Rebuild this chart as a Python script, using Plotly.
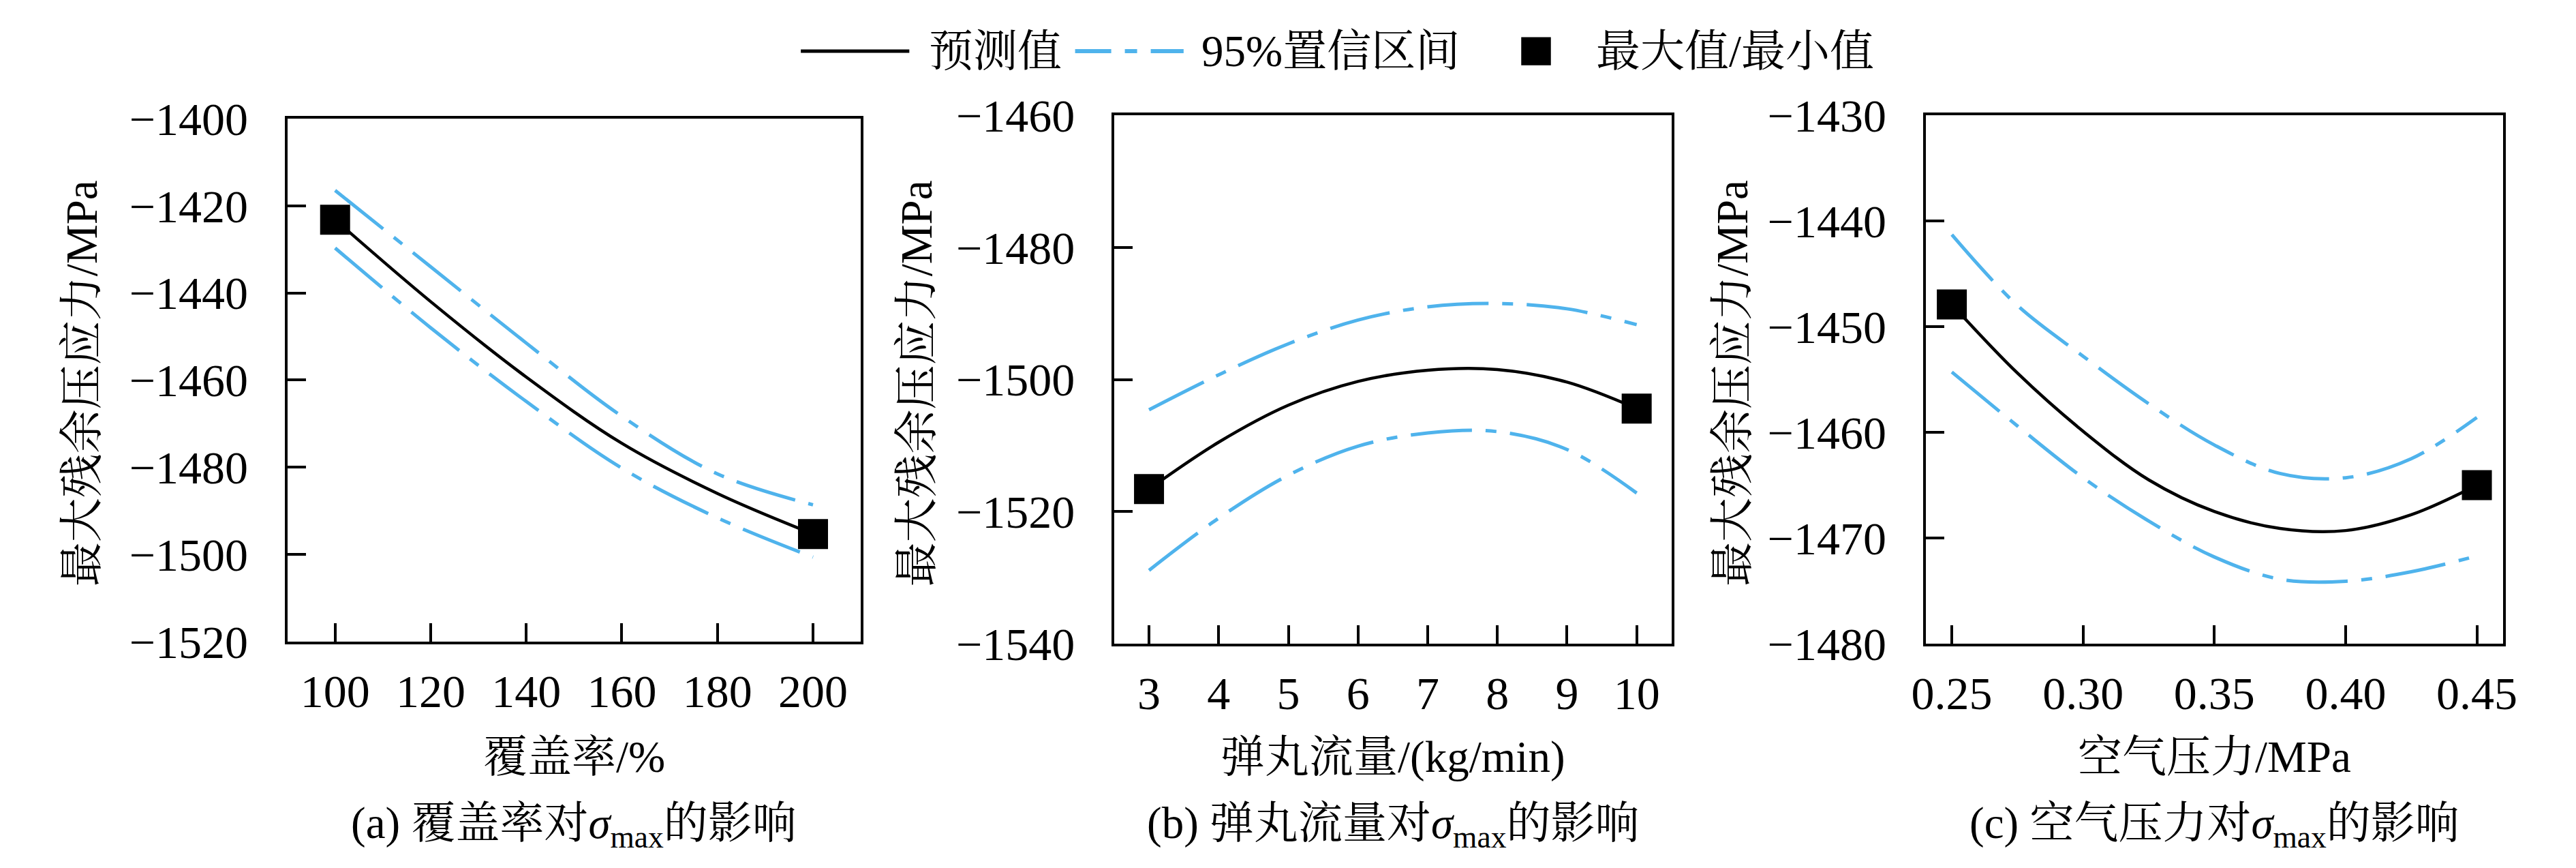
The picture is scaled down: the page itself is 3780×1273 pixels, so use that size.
import plotly.graph_objects as go

FONT = "'Liberation Serif', 'DejaVu Serif', 'Noto Serif CJK SC', 'Noto Sans CJK SC', serif"
BLUE = "#4FB3EC"
W, H = 3780, 1273

# (a) coverage
cov_x = [100, 120, 140, 160, 180, 200]
cov_pred = [-1423.2, -1442.0, -1459.3, -1474.5, -1486.0, -1495.3]
cov_upper = [-1416.5, -1434.0, -1451.5, -1468.3, -1481.5, -1488.6]
cov_lower = [-1429.7, -1448.0, -1464.9, -1480.2, -1491.6, -1500.6]

# (b) shot flow rate
flow_x = [3, 4, 5, 6, 7, 8, 9, 10]
flow_pred = [-1516.6, -1509.5, -1503.9, -1500.3, -1498.6, -1498.5, -1500.4, -1504.4]
flow_upper = [-1504.6, -1499.3, -1494.6, -1491.0, -1489.0, -1488.5, -1489.3, -1491.7]
flow_lower = [-1528.9, -1521.0, -1514.5, -1510.1, -1508.1, -1507.9, -1510.6, -1517.2]

# (c) air pressure
press_x = [0.25, 0.275, 0.30, 0.325, 0.35, 0.375, 0.40, 0.425, 0.45]
press_pred = [-1447.9, -1454.4, -1459.9, -1464.5, -1467.5, -1469.1, -1469.3, -1467.8, -1465.0]
press_upper = [-1441.3, -1448.0, -1452.8, -1457.3, -1461.2, -1463.9, -1464.3, -1462.5, -1458.6]
press_lower = [-1454.3, -1459.4, -1464.3, -1468.4, -1471.8, -1473.9, -1474.1, -1473.2, -1471.7]

x_titles = ["覆盖率/%", "弹丸流量/(kg/min)", "空气压力/MPa"]
sub_titles = [
    "(a) 覆盖率对<i>σ</i><sub>max</sub>的影响",
    "(b) 弹丸流量对<i>σ</i><sub>max</sub>的影响",
    "(c) 空气压力对<i>σ</i><sub>max</sub>的影响",
]
y_title = "最大残余压应力/MPa"
legend_labels = ["预测值", "95%置信区间", "最大值/最小值"]

panels = [
    dict(x=cov_x, pred=cov_pred, up=cov_upper, lo=cov_lower,
         xr=[90, 210], yr=[-1520, -1400], xt=list(range(100, 201, 20)), yt=list(range(-1520, -1399, 20)),
         fmt="d", dom_x=(397, 1248), dom_y=(137, 953), ytx=92),
    dict(x=flow_x, pred=flow_pred, up=flow_upper, lo=flow_lower,
         xr=[2.5, 10.5], yr=[-1540, -1460], xt=list(range(3, 11)), yt=list(range(-1540, -1459, 20)),
         fmt="d", dom_x=(1624, 2451), dom_y=(132, 956), ytx=1331),
    dict(x=press_x, pred=press_pred, up=press_upper, lo=press_lower,
         xr=[0.24, 0.46], yr=[-1480, -1430], xt=[0.25, 0.30, 0.35, 0.40, 0.45], yt=list(range(-1480, -1429, 10)),
         fmt=".2f", dom_x=(2828, 3685), dom_y=(132, 956), ytx=2541),
]


def px_x(v):
    return v / W


def px_y(v):
    return 1 - v / H


fig = go.Figure()
annotations = []
layout_axes = {}

for i, p in enumerate(panels):
    n = "" if i == 0 else str(i + 1)
    xa, ya = "x" + n, "y" + n
    dash = "90px,20px,16px,20px"
    for key in ("up", "lo"):
        fig.add_trace(go.Scatter(
            x=p["x"], y=p[key], xaxis=xa, yaxis=ya, mode="lines",
            line=dict(color=BLUE, width=5, dash=dash, shape="spline"),
            showlegend=False, hoverinfo="skip"))
    fig.add_trace(go.Scatter(
        x=p["x"], y=p["pred"], xaxis=xa, yaxis=ya, mode="lines",
        line=dict(color="black", width=4.5, shape="spline"), showlegend=False))
    fig.add_trace(go.Scatter(
        x=[p["x"][0], p["x"][-1]], y=[p["pred"][0], p["pred"][-1]], xaxis=xa, yaxis=ya,
        mode="markers", marker=dict(symbol="square", size=44, color="black"), showlegend=False))

    common = dict(showline=True, linecolor="black", linewidth=4, mirror=True,
                  ticks="inside", ticklen=27, tickwidth=4, tickcolor="black",
                  showgrid=False, zeroline=False,
                  tickfont=dict(family=FONT, size=68, color="black"))
    layout_axes["xaxis" + n] = dict(
        common, domain=[px_x(p["dom_x"][0]), px_x(p["dom_x"][1])], range=p["xr"],
        tickvals=p["xt"], tickformat=p["fmt"], anchor=ya, ticklabelstandoff=10)
    layout_axes["yaxis" + n] = dict(
        common, domain=[px_y(p["dom_y"][1]), px_y(p["dom_y"][0])], range=p["yr"],
        tickvals=p["yt"], anchor=xa, ticklabelstandoff=40)

    cx = px_x((p["dom_x"][0] + p["dom_x"][1]) / 2)
    annotations.append(dict(text=x_titles[i], x=cx, y=px_y(1133), xref="paper", yref="paper",
                            showarrow=False, xanchor="center", yanchor="middle",
                            font=dict(family=FONT, size=65, color="black")))
    annotations.append(dict(text=sub_titles[i], x=cx, y=px_y(1241), xref="paper", yref="paper",
                            showarrow=False, xanchor="center", yanchor="middle",
                            font=dict(family=FONT, size=65, color="black")))
    annotations.append(dict(text=y_title, x=px_x(p["ytx"]), y=px_y(550), xref="paper", yref="paper",
                            showarrow=False, xanchor="center", yanchor="middle", textangle=-90,
                            font=dict(family=FONT, size=65, color="black")))

# legend drawn as decoration along the top
ly = px_y(32)
shapes = [
    dict(type="line", xref="paper", yref="paper", x0=px_x(1159), x1=px_x(1320), y0=ly, y1=ly,
         line=dict(color="black", width=5)),
    dict(type="line", xref="paper", yref="paper", x0=px_x(1566), x1=px_x(1727), y0=ly, y1=ly,
         line=dict(color=BLUE, width=6, dash="53px,20px,18px,20px")),
    dict(type="rect", xref="paper", yref="paper", x0=px_x(2228), x1=px_x(2272), y0=px_y(54), y1=px_y(10),
         fillcolor="black", line=dict(width=0)),
]
for label, lx in zip(legend_labels, [1347, 1751, 2337]):
    annotations.append(dict(text=label, x=px_x(lx), y=ly, xref="paper", yref="paper",
                            showarrow=False, xanchor="left", yanchor="middle",
                            font=dict(family=FONT, size=65, color="black")))

fig.update_layout(
    width=W, height=H,
    margin=dict(l=0, r=0, t=0, b=0),
    paper_bgcolor="white", plot_bgcolor="white",
    font=dict(family=FONT, color="black"),
    showlegend=False,
    annotations=annotations,
    shapes=shapes,
    **layout_axes,
)

fig.write_html("out.html")
